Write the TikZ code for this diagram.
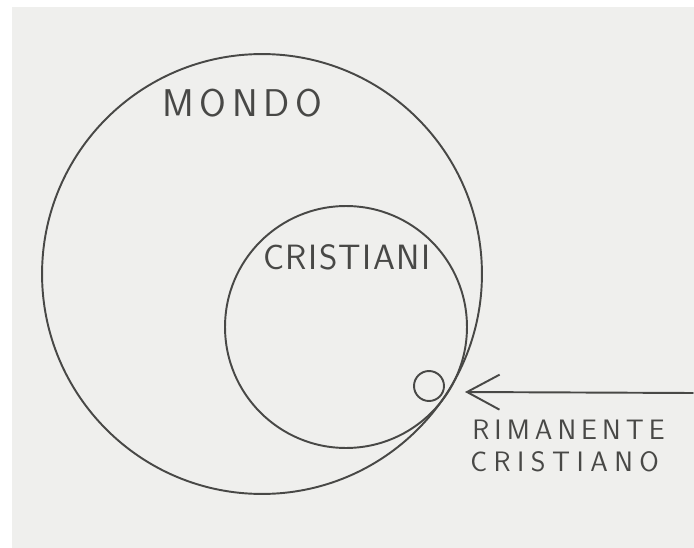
\documentclass[tikz,border=0pt]{standalone}
\usepackage{fontspec}
\usepackage{tikz}
\usetikzlibrary{arrows.meta}
\usepackage{xcolor}
\newfontfamily\mano{Latin Modern Sans}
\definecolor{carta}{RGB}{239,239,237}
\definecolor{matita}{RGB}{72,72,70}

\begin{document}
\begin{tikzpicture}[x=0.02cm,y=-0.02cm,>={Straight Barb[length=6.5mm,width=7mm]},line cap=round,
  tratto/.style={matita,line width=1.1pt},
  insieme/.style={tratto,draw,circle,inner sep=0pt,outer sep=0pt},
  scritta/.style={matita,inner sep=0pt,anchor=west}]
\useasboundingbox (0,0) rectangle (694,548);
\fill[white] (0,0) rectangle (694,548);
\fill[carta] (12,7) rectangle (694,548);
% insiemi
\node[insieme,minimum size=8.8cm] (mondo) at (262,274) {};
\node[insieme,minimum size=4.84cm] (cristiani) at (346,327) {};
\node[insieme,minimum size=0.6cm] (rimanente) at (429,386) {};
% freccia
\coordinate (fuori) at (693,393);
\coordinate (punta) at (465,392);
\draw[tratto,->] (fuori) -- (punta);
% scritte
\node[scritta,font=\mano\fontsize{22}{22}\selectfont\addfontfeature{LetterSpace=15}] (tmondo) at (162,103) {MONDO};
\node[scritta,font=\mano\fontsize{20}{20}\selectfont\addfontfeature{LetterSpace=4}] (tcristiani) at (263,257) {CRISTIANI};
\node[scritta,font=\mano\fontsize{16}{16}\selectfont\addfontfeature{LetterSpace=18}] (trimanente) at (472,430) {RIMANENTE};
\node[scritta,font=\mano\fontsize{16}{16}\selectfont\addfontfeature{LetterSpace=23}] (tcristiano) at (470,462) {CRISTIANO};
\end{tikzpicture}
\end{document}
